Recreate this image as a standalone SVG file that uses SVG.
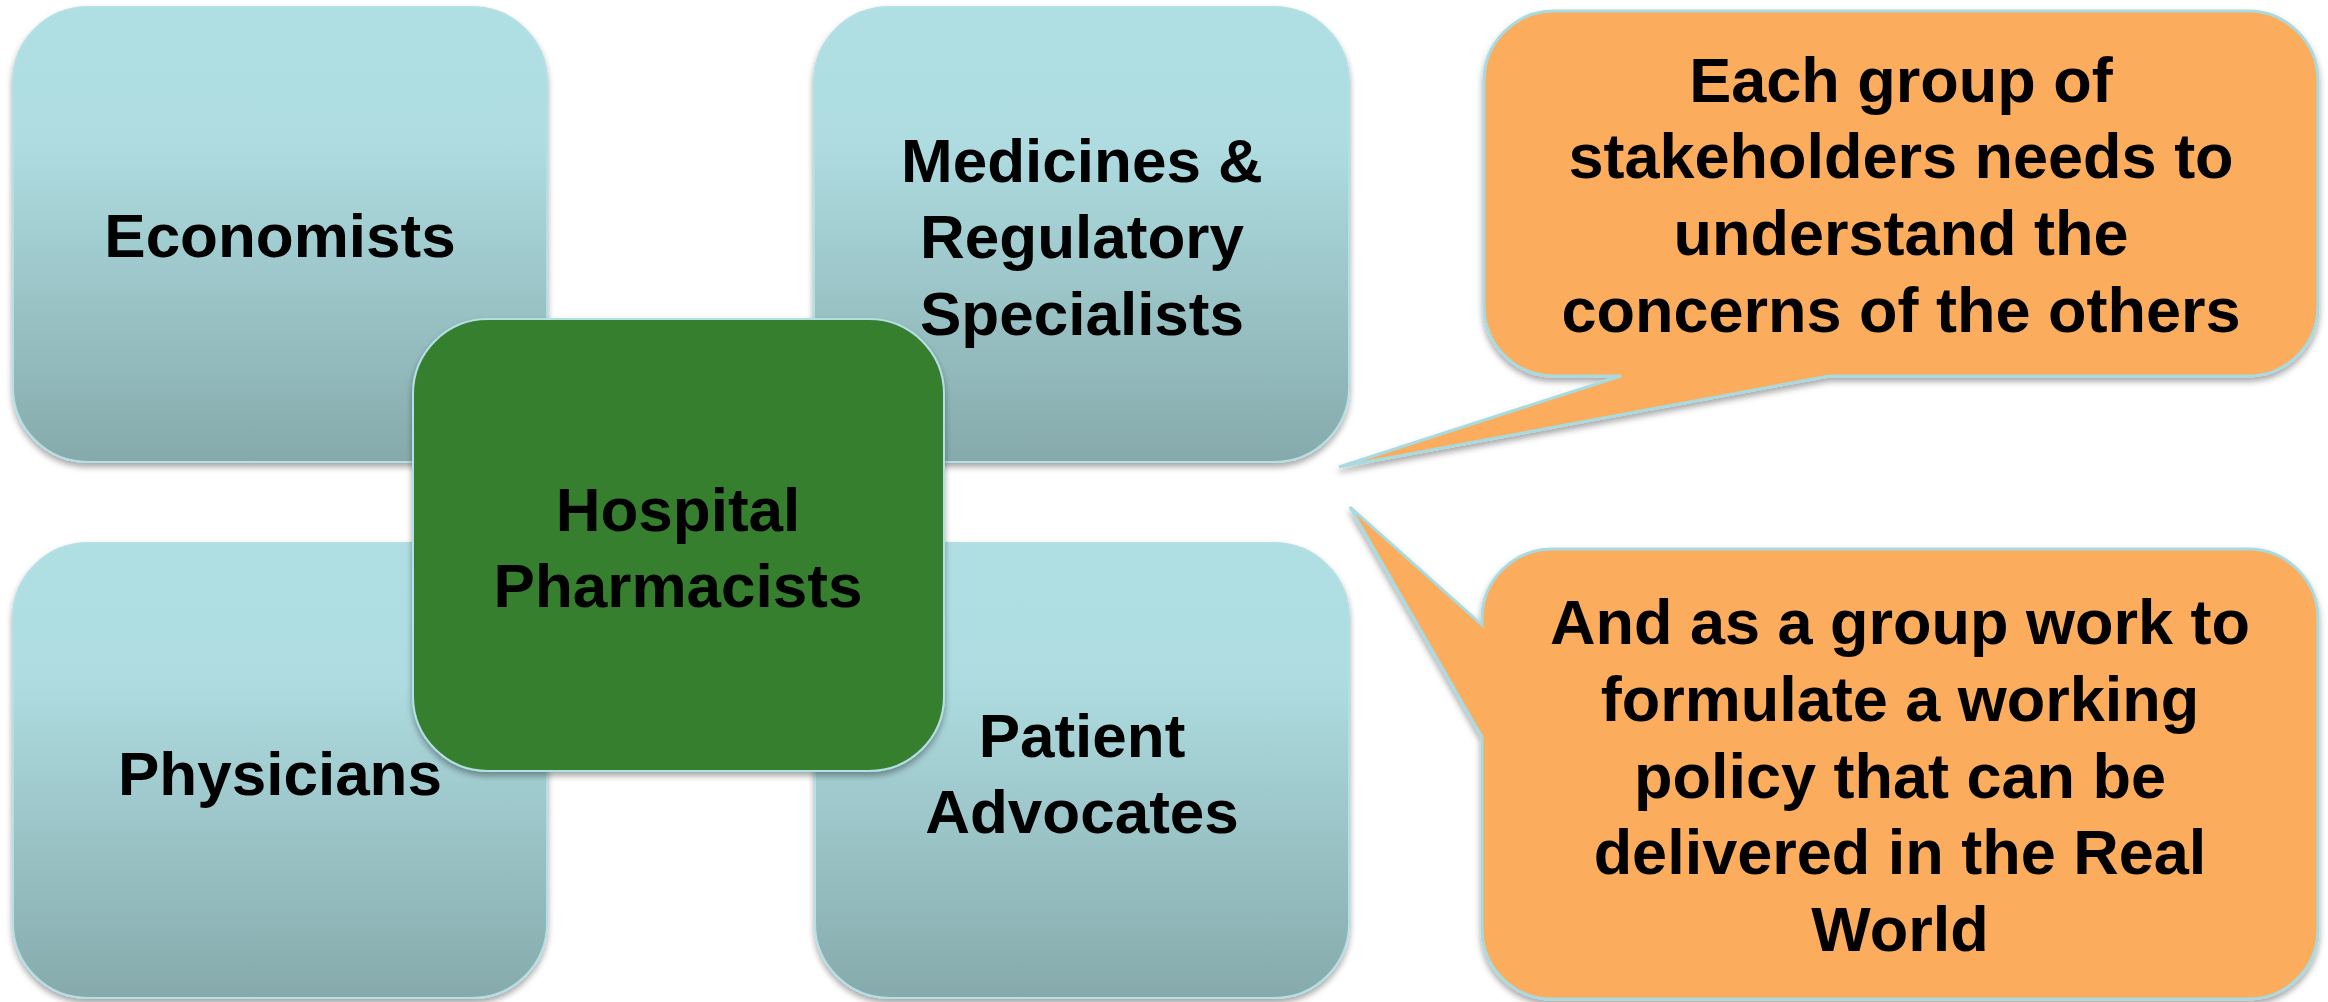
<svg xmlns="http://www.w3.org/2000/svg" width="2328" height="1002" viewBox="0 0 2328 1002">
<defs>
<linearGradient id="blueGrad" x1="0" y1="0" x2="0" y2="1">
<stop offset="0" stop-color="#B0DFE3"/>
<stop offset="0.3" stop-color="#AEDCE0"/>
<stop offset="1" stop-color="#86AAAC"/>
</linearGradient>
<filter id="shadow" x="-5%" y="-5%" width="110%" height="115%">
<feDropShadow dx="0" dy="4" stdDeviation="3" flood-color="#000" flood-opacity="0.35"/>
</filter>
</defs>
<style>
.box{fill:url(#blueGrad);stroke:#B3E0E5;stroke-width:2;filter:url(#shadow)}
.center{fill:#357F2D;stroke:#B3E0E5;stroke-width:2;filter:url(#shadow)}
.call{fill:#FBAC5B;stroke:#A9DAE0;stroke-width:3;stroke-linejoin:miter;filter:url(#shadow)}
.lbl{font-family:"Liberation Sans",Arial,Helvetica,sans-serif;font-weight:bold;font-size:62px;fill:#000;text-anchor:middle}
.clbl{font-family:"Liberation Sans",Arial,Helvetica,sans-serif;font-weight:bold;font-size:63px;fill:#000;text-anchor:middle}
</style>
<rect width="2328" height="1002" fill="#FFFFFF"/>
<g id="connectors"></g>
<g id="economists">
<rect class="box" x="13" y="7" width="534" height="455" rx="75" ry="75"/>
<text class="lbl" x="280" y="257">Economists</text>
</g>
<g id="medicines">
<rect class="box" x="814" y="7" width="535" height="455" rx="75" ry="75"/>
<text class="lbl" x="1082" y="182">Medicines &amp;</text>
<text class="lbl" x="1082" y="258">Regulatory</text>
<text class="lbl" x="1082" y="335">Specialists</text>
</g>
<g id="physicians">
<rect class="box" x="13" y="543" width="534" height="455" rx="75" ry="75"/>
<text class="lbl" x="280" y="795">Physicians</text>
</g>
<g id="patient-advocates">
<rect class="box" x="815" y="543" width="534" height="455" rx="75" ry="75"/>
<text class="lbl" x="1082" y="757">Patient</text>
<text class="lbl" x="1082" y="833">Advocates</text>
</g>
<g id="hospital-pharmacists">
<rect class="center" x="413" y="319" width="531" height="452" rx="75" ry="75"/>
<text class="lbl" x="678" y="531">Hospital</text>
<text class="lbl" x="678" y="607">Pharmacists</text>
</g>
<g id="callout-top">
<path class="call" d="M1554,11 H2248 A70,70 0 0 1 2318,81 V306 A70,70 0 0 1 2248,376 H1829 L1339,467 L1621,376 H1554 A70,70 0 0 1 1484,306 V81 A70,70 0 0 1 1554,11 Z"/>
<text class="clbl" x="1901" y="102">Each group of</text>
<text class="clbl" x="1901" y="178">stakeholders needs to</text>
<text class="clbl" x="1901" y="255">understand the</text>
<text class="clbl" x="1901" y="332">concerns of the others</text>
</g>
<g id="callout-bottom">
<path class="call" d="M1552,549 H2248 A70,70 0 0 1 2318,619 V929 A70,70 0 0 1 2248,999 H1552 A70,70 0 0 1 1482,929 V737 L1350,507 L1482,625 V619 A70,70 0 0 1 1552,549 Z"/>
<text class="clbl" x="1900" y="644">And as a group work to</text>
<text class="clbl" x="1900" y="721">formulate a working</text>
<text class="clbl" x="1900" y="798">policy that can be</text>
<text class="clbl" x="1900" y="874">delivered in the Real</text>
<text class="clbl" x="1900" y="951">World</text>
</g>
</svg>
